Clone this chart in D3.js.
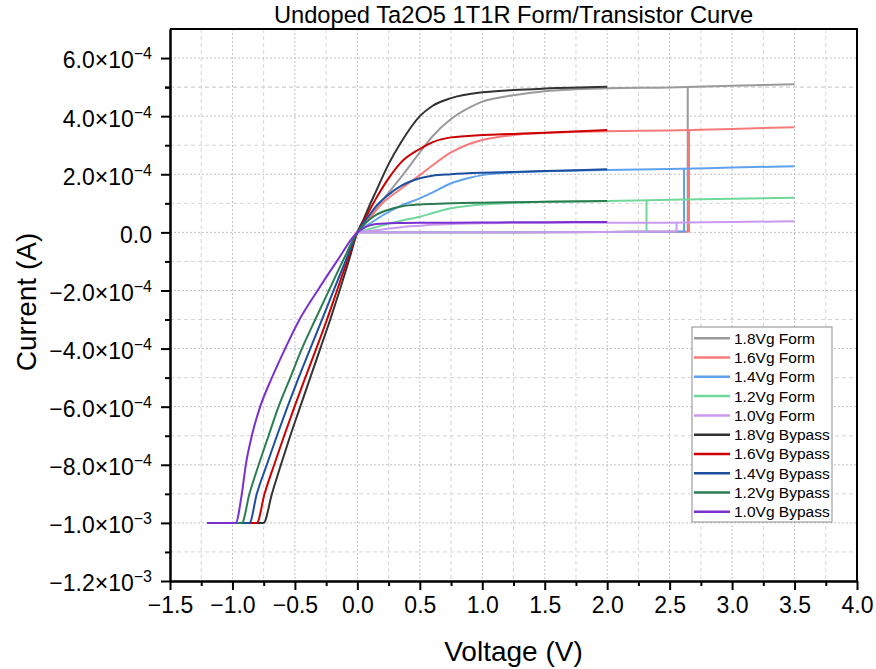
<!DOCTYPE html>
<html>
<head>
<meta charset="utf-8">
<script src="https://cdn.jsdelivr.net/npm/d3@7"></script>
<style>
body { margin: 0; background: #fff; }
text { font-family: Arial, "Liberation Sans", sans-serif; fill: #000; }
</style>
</head>
<body>
<div id="chart"></div>
<script>
// currents below are in units of 1e-4 A
var xTicks = [-1.5, -1.0, -0.5, 0.0, 0.5, 1.0, 1.5, 2.0, 2.5, 3.0, 3.5, 4.0];
var yTicks = [-1.2e-3, -1.0e-3, -8e-4, -6e-4, -4e-4, -2e-4, 0, 2e-4, 4e-4, 6e-4];

var names = ["1.8Vg Form", "1.6Vg Form", "1.4Vg Form", "1.2Vg Form", "1.0Vg Form",
             "1.8Vg Bypass", "1.6Vg Bypass", "1.4Vg Bypass", "1.2Vg Bypass", "1.0Vg Bypass"];
var colors = ["#9a9a9a", "#f77a7a", "#5fa2ee", "#6fd89a", "#c99af0",
              "#333333", "#cc0000", "#1c4f9e", "#2a7d50", "#7a30cf"];

// Form sweeps: low (unformed) current up to forming voltage, jump, then formed curve
var formV = [0, 0.1, 0.2, 0.35, 0.5, 0.6, 0.75, 0.9, 1.0, 1.25, 1.5, 2.0, 2.5, 3.0, 3.5];
var form18 = [0, 0.55, 1.1, 1.9, 2.75, 3.3, 3.9, 4.3, 4.5, 4.72, 4.86, 4.96, 4.99, 5.05, 5.1];
var form16 = [0, 0.5, 1.0, 1.5, 1.97, 2.3, 2.75, 3.05, 3.18, 3.35, 3.42, 3.48, 3.51, 3.56, 3.62];
var form14 = [0, 0.3, 0.58, 0.92, 1.17, 1.37, 1.69, 1.88, 1.97, 2.06, 2.1, 2.15, 2.18, 2.23, 2.28];
var form12 = [0, 0.12, 0.24, 0.4, 0.54, 0.66, 0.83, 0.92, 0.96, 1.02, 1.05, 1.08, 1.12, 1.16, 1.19];
var form10 = [0, 0.05, 0.1, 0.18, 0.23, 0.26, 0.29, 0.305, 0.31, 0.32, 0.325, 0.33, 0.335, 0.36, 0.38];
var formSetV = [2.645, 2.655, 2.615, 2.315, 2.555];
var formSetI = [5.0, 3.53, 2.19, 1.11, 0.33];
var preV = [0, 1.0, 2.0];
var preI = [0, 0.005, 0.015];
var preEndI = 0.03;

// Bypass sweeps: negative side read at fixed current levels, positive side at fixed voltages
var complianceV = -1.2;
var negLevels = [-10, -9, -8, -7, -6, -5, -4, -3, -2, -1, 0];
var neg18 = [-0.751, -0.684, -0.612, -0.537, -0.457, -0.377, -0.297, -0.217, -0.142, -0.070, 0];
var neg16 = [-0.805, -0.743, -0.666, -0.586, -0.503, -0.417, -0.329, -0.243, -0.163, -0.083, 0];
var neg14 = [-0.864, -0.805, -0.725, -0.644, -0.559, -0.470, -0.377, -0.283, -0.190, -0.096, 0];
var neg12 = [-0.925, -0.864, -0.790, -0.711, -0.631, -0.537, -0.444, -0.337, -0.228, -0.118, 0];
var neg10 = [-0.975, -0.925, -0.893, -0.845, -0.778, -0.684, -0.578, -0.463, -0.318, -0.165, 0];
var posV = [0.05, 0.1, 0.15, 0.25, 0.35, 0.5, 0.6, 0.75, 1.0, 1.25, 1.5, 2.0];
var pos18 = [0.45, 0.95, 1.42, 2.35, 3.1, 4.0, 4.35, 4.62, 4.82, 4.9, 4.95, 5.01];
var pos16 = [0.38, 0.78, 1.17, 1.86, 2.41, 2.87, 3.1, 3.27, 3.35, 3.39, 3.43, 3.52];
var pos14 = [0.33, 0.62, 0.9, 1.3, 1.6, 1.86, 1.95, 2.0, 2.05, 2.08, 2.11, 2.17];
var pos12 = [0.25, 0.45, 0.6, 0.78, 0.89, 0.96, 0.98, 1.0, 1.02, 1.04, 1.05, 1.08];
var pos10 = [0.15, 0.24, 0.29, 0.31, 0.32, 0.33, 0.33, 0.335, 0.34, 0.345, 0.35, 0.355];

var forms = [form18, form16, form14, form12, form10];
var negs = [neg18, neg16, neg14, neg12, neg10];
var poss = [pos18, pos16, pos14, pos12, pos10];

var W = 876, H = 669;
var plot = { left: 170, right: 857, top: 29, bottom: 581 };

var svg = d3.select("#chart").append("svg")
    .attr("width", W)
    .attr("height", H);

var x = d3.scaleLinear().domain([-1.5, 4.0]).range([plot.left, plot.right]);
var y = d3.scaleLinear().domain([-1.2e-3, 7e-4]).range([plot.bottom, plot.top]);

var xMinor = xTicks.slice(1).map((v, i) => (v + xTicks[i]) / 2);
var yMinor = yTicks.slice(1).map((v, i) => (v + yTicks[i]) / 2).concat([5e-4]);

// grid
var grid = svg.append("g").attr("class", "grid");
grid.selectAll("line.vmin").data(xMinor).enter().append("line")
    .attr("x1", d => x(d)).attr("x2", d => x(d))
    .attr("y1", plot.top).attr("y2", plot.bottom)
    .attr("stroke", "#d6d6d6").attr("stroke-dasharray", "4,3");
grid.selectAll("line.hmin").data(yMinor).enter().append("line")
    .attr("y1", d => y(d)).attr("y2", d => y(d))
    .attr("x1", plot.left).attr("x2", plot.right)
    .attr("stroke", "#d6d6d6").attr("stroke-dasharray", "4,3");
grid.selectAll("line.vmaj").data(xTicks).enter().append("line")
    .attr("x1", d => x(d)).attr("x2", d => x(d))
    .attr("y1", plot.top).attr("y2", plot.bottom)
    .attr("stroke", "#c0c0c0").attr("stroke-dasharray", "2,2");
grid.selectAll("line.hmaj").data(yTicks).enter().append("line")
    .attr("y1", d => y(d)).attr("y2", d => y(d))
    .attr("x1", plot.left).attr("x2", plot.right)
    .attr("stroke", "#c0c0c0").attr("stroke-dasharray", "2,2");

var line = d3.line()
    .x(d => x(d[0]))
    .y(d => y(d[1] * 1e-4))
    .curve(d3.curveMonotoneX);
var straight = d3.line()
    .x(d => x(d[0]))
    .y(d => y(d[1] * 1e-4));

var curves = svg.append("g").attr("fill", "none").attr("stroke-width", 2);

// form curves
forms.forEach((f, k) => {
    var low = preV.map((v, i) => [v, preI[i]])
        .concat([[formSetV[k], preEndI], [formSetV[k], formSetI[k]]]);
    curves.append("path")
        .attr("d", straight(low))
        .attr("stroke", colors[k]);
    curves.append("path")
        .attr("d", line(formV.map((v, i) => [v, f[i]])))
        .attr("stroke", colors[k]);
});

// bypass curves
negs.forEach((n, k) => {
    var pts = [[complianceV, negLevels[0]]]
        .concat(n.map((v, i) => [v, negLevels[i]]))
        .concat(posV.map((v, i) => [v, poss[k][i]]));
    curves.append("path")
        .attr("d", line(pts))
        .attr("stroke", colors[5 + k]);
});

// axes
function sciLabel(sel, v) {
    if (v === 0) { sel.text("0.0"); return; }
    var e = Math.floor(Math.log10(Math.abs(v)) + 1e-9);
    var m = v / Math.pow(10, e);
    sel.text(null);
    sel.append("tspan").text((m < 0 ? "\u2212" : "") + Math.abs(m).toFixed(1) + "\u00d710");
    sel.append("tspan").attr("dy", -9).attr("font-size", 16).text("\u2212" + Math.abs(e));
}

var xAxis = svg.append("g")
    .attr("transform", "translate(0," + plot.bottom + ")")
    .call(d3.axisBottom(x).tickValues(xTicks).tickFormat(d3.format(".1f")).tickSize(9).tickSizeOuter(0).tickPadding(7));
svg.append("g")
    .attr("transform", "translate(0," + plot.bottom + ")")
    .call(d3.axisBottom(x).tickValues(xMinor).tickFormat("").tickSize(5).tickSizeOuter(0));

var yAxis = svg.append("g")
    .attr("transform", "translate(" + plot.left + ",0)")
    .call(d3.axisLeft(y).tickValues(yTicks).tickSize(9).tickSizeOuter(0).tickPadding(9));
svg.append("g")
    .attr("transform", "translate(" + plot.left + ",0)")
    .call(d3.axisLeft(y).tickValues(yMinor).tickFormat("").tickSize(5).tickSizeOuter(0));

yAxis.selectAll(".tick text").each(function(d) { sciLabel(d3.select(this), d); });

svg.selectAll(".domain, .tick line").attr("stroke", "#000").attr("stroke-width", 2);
svg.selectAll(".tick text").attr("font-size", 23).attr("fill", "#000")
    .style("font-family", "Arial, 'Liberation Sans', sans-serif");
yAxis.selectAll(".tick text").attr("dy", "0.43em");

// frame top/right
svg.append("line").attr("x1", plot.left).attr("x2", plot.right + 1)
    .attr("y1", plot.top).attr("y2", plot.top).attr("stroke", "#000").attr("stroke-width", 2);
svg.append("line").attr("x1", plot.right).attr("x2", plot.right)
    .attr("y1", plot.top).attr("y2", plot.bottom).attr("stroke", "#000").attr("stroke-width", 2);

// titles
svg.append("text")
    .attr("x", (plot.left + plot.right) / 2).attr("y", 23)
    .attr("text-anchor", "middle").attr("font-size", 23.7)
    .text("Undoped Ta2O5 1T1R Form/Transistor Curve");
svg.append("text")
    .attr("x", (plot.left + plot.right) / 2).attr("y", 661)
    .attr("text-anchor", "middle").attr("font-size", 28)
    .text("Voltage (V)");
svg.append("text")
    .attr("transform", "translate(36," + 302 + ") rotate(-90)")
    .attr("text-anchor", "middle").attr("font-size", 28)
    .text("Current (A)");

// legend
var lg = svg.append("g").attr("transform", "translate(692,327)");
lg.append("rect").attr("width", 140).attr("height", 195)
    .attr("fill", "#fff").attr("stroke", "#8c8c8c").attr("stroke-width", 1);
var item = lg.selectAll("g.item").data(names).enter().append("g")
    .attr("transform", (d, i) => "translate(0," + (11.3 + i * 19.27) + ")");
item.append("line").attr("x1", 2).attr("x2", 38)
    .attr("stroke", (d, i) => colors[i]).attr("stroke-width", 2.5);
item.append("text").attr("x", 42).attr("y", 5.5)
    .attr("font-size", 15.5).text(d => d);
</script>
</body>
</html>
